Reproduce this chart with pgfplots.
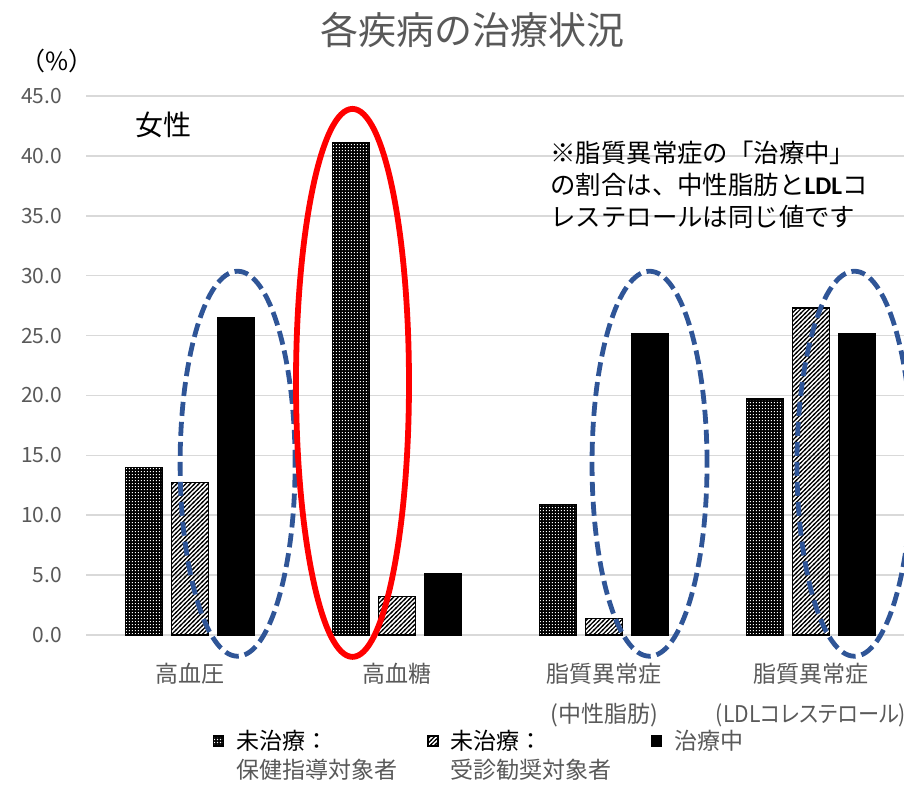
\documentclass[border=0pt]{standalone}
\usepackage{fontspec}
\setmainfont{Noto Sans CJK JP}
\newfontfamily\propfont{Noto Sans CJK JP}[RawFeature=+palt, FakeStretch=0.92]
\newfontfamily\latinfont{Carlito}
\usepackage{pgfplots}
\pgfplotsset{compat=1.18}
\usetikzlibrary{patterns}

\definecolor{txtgray}{HTML}{595959}
\definecolor{gridgray}{HTML}{D9D9D9}
\definecolor{ovalblue}{HTML}{2F5597}
\definecolor{ovalred}{HTML}{FF0000}

% fine grid of square dots (drawn white over black bars)
\pgfdeclarepatternformonly{whitegrid}{\pgfpointorigin}{\pgfqpoint{1.7pt}{1.7pt}}{\pgfqpoint{1.7pt}{1.7pt}}{%
  \pgfpathrectangle{\pgfqpoint{0.5pt}{0.5pt}}{\pgfqpoint{0.65pt}{0.65pt}}\pgfusepath{fill}}
% dense diagonal hatching
\pgfdeclarepatternformonly{diaghatch}{\pgfqpoint{-0.5pt}{-0.5pt}}{\pgfqpoint{2.7pt}{2.7pt}}{\pgfqpoint{2.2pt}{2.2pt}}{%
  \pgfsetlinewidth{0.6pt}%
  \pgfpathmoveto{\pgfqpoint{-0.5pt}{-0.5pt}}\pgfpathlineto{\pgfqpoint{2.7pt}{2.7pt}}\pgfusepath{stroke}}

\begin{document}
\begin{tikzpicture}
\begin{axis}[
  at={(0pt,0pt)}, anchor=south west,
  scale only axis, width=414pt, height=269.5pt,
  ybar=4.2pt, bar width=18.8pt,
  xmin=-0.5, xmax=3.5, ymin=0, ymax=45,
  clip=false,
  axis line style={draw=none},
  major tick length=0pt,
  xtick={0,1,2,3},
  xticklabels={高血圧,高血糖,{脂質異常症\\(中性脂肪)},{脂質異常症\\{\propfont(LDLコレステロール)}}},
  xticklabel style={align=center, anchor=north, yshift=-10.5pt,
    text=txtgray, font=\fontsize{11.5}{20}\selectfont},
  ytick={0,5,...,45},
  ymajorgrids,
  major grid style={draw=gridgray, line width=0.75pt},
  yticklabel style={anchor=east, xshift=-8.75pt, text=txtgray,
    font=\fontsize{10.5}{12}\selectfont,
    /pgf/number format/.cd, fixed, fixed zerofill, precision=1, assume math mode=true},
  legend columns=3,
  legend cell align=left,
  legend style={at={(0.1447,-0.1595)}, anchor=north west, draw=none, fill=none,
    text=txtgray, font=\fontsize{11.5}{14.5}\selectfont,
    /tikz/every even column/.append style={column sep=13pt}},
  legend image code/.code={\draw[#1] (0pt,-2.5pt) rectangle (5pt,2.5pt);
    \pgfpathmoveto{\pgfqpoint{9.5pt}{0pt}}\pgfusepath{}},
]
\addplot[draw=black, line width=0.6pt, fill=black,
  postaction={pattern=whitegrid, pattern color=white}]
  coordinates {(0,14.0) (1,41.1) (2,10.9) (3,19.7)};
\addplot[draw=black, line width=0.6pt, pattern=diaghatch, pattern color=black]
  coordinates {(0,12.7) (1,3.2) (2,1.4) (3,27.3)};
\addplot[draw=black, line width=0.6pt, fill=black]
  coordinates {(0,26.5) (1,5.1) (2,25.2) (3,25.2)};
\addlegendentry{\begin{tabular}[t]{@{}l@{}}{\color{black}未治療：}\\保健指導対象者\end{tabular}}
\addlegendentry{\begin{tabular}[t]{@{}l@{}}{\color{black}未治療：}\\受診勧奨対象者\hspace*{4.5pt}\end{tabular}}
\addlegendentry[text=txtgray]{\color{txtgray}治療中}

% highlight ovals
\draw[ovalblue, line width=2.4pt, dash pattern=on 7pt off 3pt]
  (axis cs:0.23,14.3) ellipse [x radius=28.75pt, y radius=96.25pt];
\draw[ovalblue, line width=2.4pt, dash pattern=on 7pt off 3pt]
  (axis cs:2.22,14.3) ellipse [x radius=28.75pt, y radius=96.25pt];
\draw[ovalblue, line width=2.4pt, dash pattern=on 7pt off 3pt]
  (axis cs:3.21,14.3) ellipse [x radius=28.75pt, y radius=96.25pt];
\draw[ovalred, line width=2.9pt]
  (axis cs:0.785,21.05) ellipse [x radius=28.25pt, y radius=137pt];

% titles and notes
\node[font=\fontsize{19}{22}\selectfont, text=txtgray]
  at (axis description cs:0.4656,1.1224) {各疾病の治療状況};
\node[font=\fontsize{12.5}{14}\selectfont]
  at (axis description cs:-0.0356,1.065) {（\%）};
\node[font=\fontsize{14}{16}\selectfont]
  at (axis description cs:0.0924,0.9462) {女性};
\node[anchor=north west, align=left, inner sep=0pt,
  font=\fontsize{12.7}{16}\selectfont]
  at (axis description cs:0.5600,0.918)
  {※脂質異常症の「治療中」\\の割合は、中性脂肪と{\latinfont\bfseries LDL}コ\\レステロールは同じ値です};
\end{axis}
\pgfresetboundingbox
\useasboundingbox (-43.25pt,-74.5pt) rectangle (408.75pt,317.5pt);
\end{tikzpicture}
\end{document}
